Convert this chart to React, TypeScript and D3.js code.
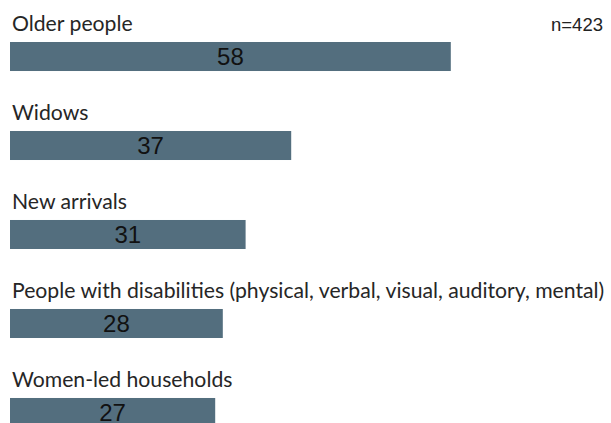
import React from "react";
import * as d3 from "d3";

const categories = [
  "Older people",
  "Widows",
  "New arrivals",
  "People with disabilities (physical, verbal, visual, auditory, mental)",
  "Women-led households",
];
const values = [58, 37, 31, 28, 27];
const sampleLabel = "n=423";

const W = 611;
const H = 423;

export default function App() {
  const x = d3.scaleLinear().domain([0, 100]).range([10, 770]);
  const y = d3
    .scaleBand<string>()
    .domain(categories)
    .range([42, 427])
    .paddingInner(0.674)
    .paddingOuter(0);
  const labelFont = "'Lato', 'Open Sans', sans-serif";
  const numFont = "'Liberation Sans', Arial, sans-serif";
  return (
    <svg
      width={W}
      height={H}
      style={{ position: "absolute", left: 0, top: 0, background: "#fff" }}
    >
      <text x={603} y={31} textAnchor="end" fontFamily={numFont} fontSize={18.5} fill="#222">
        {sampleLabel}
      </text>
      {categories.map((c, i) => {
        const top = y(c)!;
        const bw = y.bandwidth();
        return (
          <g key={c}>
            <text x={12} y={top - 11} fontFamily={labelFont} fontSize={21.2} fill="#262626">
              {c}
            </text>
            <rect x={x(0)} y={top} width={x(values[i]) - x(0)} height={bw} fill="#536e7e" />
            <text
              x={(x(0) + x(values[i])) / 2}
              y={top + 23}
              textAnchor="middle"
              fontFamily={numFont}
              fontSize={24}
              fill="#111"
            >
              {values[i]}
            </text>
          </g>
        );
      })}
    </svg>
  );
}
